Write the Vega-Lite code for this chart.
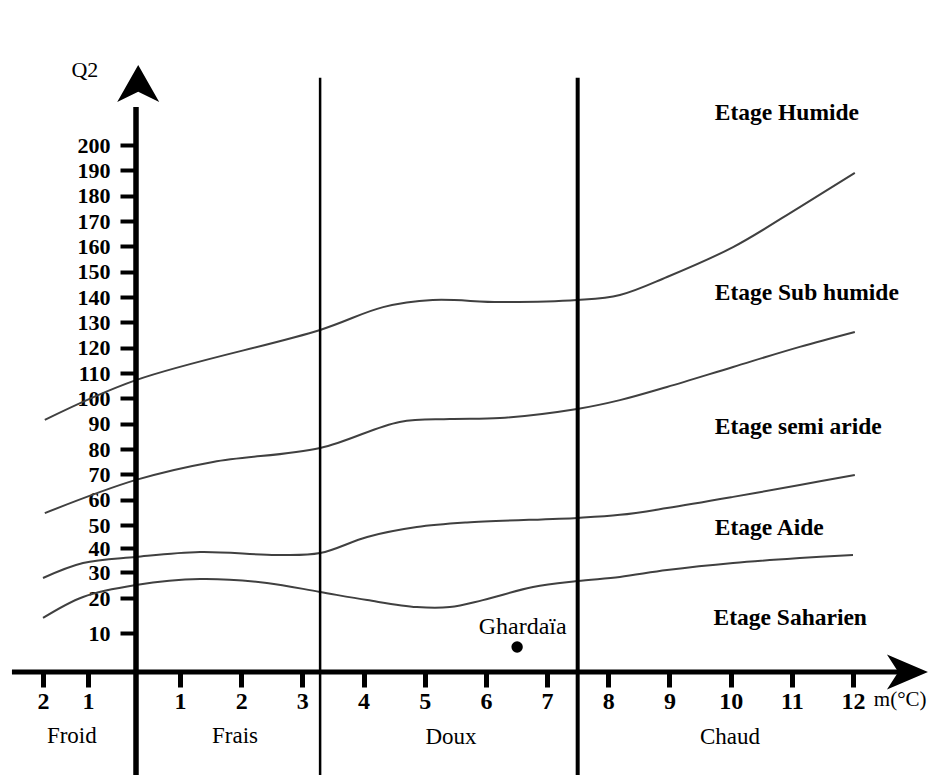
{
  "$schema": "https://vega.github.io/schema/vega-lite/v6.json",
  "width": 936,
  "height": 779,
  "padding": 0,
  "autosize": "none",
  "background": "white",
  "config": {"view": {"stroke": null}, "font": "Liberation Serif"},
  "datasets": {
    "curves": [
      {"curve": "Humide/Sub humide", "m": -1.96, "q": 91.5},
      {"curve": "Humide/Sub humide", "m": 0, "q": 107.2},
      {"curve": "Humide/Sub humide", "m": 3.29, "q": 127},
      {"curve": "Humide/Sub humide", "m": 4.32, "q": 136},
      {"curve": "Humide/Sub humide", "m": 5.13, "q": 138.8},
      {"curve": "Humide/Sub humide", "m": 6.23, "q": 138},
      {"curve": "Humide/Sub humide", "m": 7.49, "q": 138.8},
      {"curve": "Humide/Sub humide", "m": 8.19, "q": 140.8},
      {"curve": "Humide/Sub humide", "m": 8.96, "q": 147.9},
      {"curve": "Humide/Sub humide", "m": 10.04, "q": 159.7},
      {"curve": "Humide/Sub humide", "m": 11.13, "q": 175.5},
      {"curve": "Humide/Sub humide", "m": 12.03, "q": 189},
      {"curve": "Sub humide/Semi aride", "m": -1.96, "q": 54.7},
      {"curve": "Sub humide/Semi aride", "m": 0, "q": 67.8},
      {"curve": "Sub humide/Semi aride", "m": 1.54, "q": 74.9},
      {"curve": "Sub humide/Semi aride", "m": 3.29, "q": 80.4},
      {"curve": "Sub humide/Semi aride", "m": 4.59, "q": 90.7},
      {"curve": "Sub humide/Semi aride", "m": 5.41, "q": 91.8},
      {"curve": "Sub humide/Semi aride", "m": 6.23, "q": 92.2},
      {"curve": "Sub humide/Semi aride", "m": 7.49, "q": 95.8},
      {"curve": "Sub humide/Semi aride", "m": 8.19, "q": 99.3},
      {"curve": "Sub humide/Semi aride", "m": 8.96, "q": 104.5},
      {"curve": "Sub humide/Semi aride", "m": 10.04, "q": 112.4},
      {"curve": "Sub humide/Semi aride", "m": 11.13, "q": 120.3},
      {"curve": "Sub humide/Semi aride", "m": 12.03, "q": 126.2},
      {"curve": "Semi aride/Aride", "m": -2, "q": 27.7},
      {"curve": "Semi aride/Aride", "m": -1.11, "q": 33.75},
      {"curve": "Semi aride/Aride", "m": 0, "q": 36.25},
      {"curve": "Semi aride/Aride", "m": 1.33, "q": 38.3},
      {"curve": "Semi aride/Aride", "m": 2.58, "q": 37.1},
      {"curve": "Semi aride/Aride", "m": 3.29, "q": 37.9},
      {"curve": "Semi aride/Aride", "m": 4.06, "q": 44.8},
      {"curve": "Semi aride/Aride", "m": 4.87, "q": 49.1},
      {"curve": "Semi aride/Aride", "m": 5.69, "q": 51},
      {"curve": "Semi aride/Aride", "m": 7.5, "q": 52.8},
      {"curve": "Semi aride/Aride", "m": 8.19, "q": 54},
      {"curve": "Semi aride/Aride", "m": 8.96, "q": 56.7},
      {"curve": "Semi aride/Aride", "m": 10.04, "q": 61.1},
      {"curve": "Semi aride/Aride", "m": 11.13, "q": 65.8},
      {"curve": "Semi aride/Aride", "m": 12.03, "q": 69.7},
      {"curve": "Aride/Saharien", "m": -2, "q": 14.3},
      {"curve": "Aride/Saharien", "m": -1.11, "q": 20.4},
      {"curve": "Aride/Saharien", "m": 0, "q": 25},
      {"curve": "Aride/Saharien", "m": 1.33, "q": 27.3},
      {"curve": "Aride/Saharien", "m": 2.42, "q": 25.8},
      {"curve": "Aride/Saharien", "m": 3.29, "q": 22.3},
      {"curve": "Aride/Saharien", "m": 4.06, "q": 19.4},
      {"curve": "Aride/Saharien", "m": 4.87, "q": 17.4},
      {"curve": "Aride/Saharien", "m": 5.41, "q": 17.4},
      {"curve": "Aride/Saharien", "m": 5.95, "q": 19.4},
      {"curve": "Aride/Saharien", "m": 6.77, "q": 24.2},
      {"curve": "Aride/Saharien", "m": 7.49, "q": 26.5},
      {"curve": "Aride/Saharien", "m": 8.19, "q": 28.1},
      {"curve": "Aride/Saharien", "m": 8.96, "q": 30.8},
      {"curve": "Aride/Saharien", "m": 10.04, "q": 33.75},
      {"curve": "Aride/Saharien", "m": 11.13, "q": 35.8},
      {"curve": "Aride/Saharien", "m": 12, "q": 37.1}
    ],
    "separators": [
      {"line": "Frais|Doux", "m": 3.29, "q": 226.5, "q2": -26.4},
      {"line": "Doux|Chaud", "m": 7.5, "q": 226.5, "q2": -26.4}
    ],
    "yaxisline": [{"m": 0, "q": 215, "q2": -26.4}],
    "xaxisline": [{"m": -2.69, "m2": 12.9, "q": 0}],
    "yarrow": [{"m": 0.05, "q": 223.3}],
    "xarrow": [{"m": 12.89, "q": 0}],
    "etages": [
      {"label": "Etage Humide", "m": 9.74, "q": 212.6},
      {"label": "Etage Sub humide", "m": 9.74, "q": 141.6},
      {"label": "Etage semi aride", "m": 9.74, "q": 88.7},
      {"label": "Etage Aide", "m": 9.74, "q": 48.7},
      {"label": "Etage Saharien", "m": 9.72, "q": 14.3}
    ],
    "zones": [
      {"label": "Froid", "m": -1.36, "q": -16.4},
      {"label": "Frais", "m": 1.9, "q": -16.4},
      {"label": "Doux", "m": 5.43, "q": -16.6},
      {"label": "Chaud", "m": 9.99, "q": -16.6}
    ],
    "station": [{"label": "Ghardaïa", "m": 6.51, "q": 6.4, "lm": 6.6, "lq": 11.7}],
    "ytitle": [{"label": "Q2", "m": -1.07, "q": 229.6}],
    "xtitle": [{"label": "m(°C)", "m": 12.34, "q": -7.2}]
  },
  "encoding": {
    "x": {
      "field": "m",
      "type": "quantitative",
      "scale": {"domain": [-2, -1, 0, 1, 12], "range": [43, 88, 136, 180, 853], "nice": false, "zero": false},
      "axis": {
        "orient": "bottom",
        "offset": -107,
        "values": [-2, -1, 1, 2, 3, 4, 5, 6, 7, 8, 9, 10, 11, 12],
        "labelExpr": "'' + abs(datum.value)",
        "domain": false,
        "grid": false,
        "tickSize": 15,
        "tickWidth": 5,
        "tickColor": "black",
        "labelFont": "Liberation Serif",
        "labelFontWeight": "bold",
        "labelFontSize": 24,
        "labelColor": "black",
        "labelPadding": 2,
        "labelFlush": false,
        "labelOverlap": false,
        "title": null
      }
    },
    "y": {
      "field": "q",
      "type": "quantitative",
      "scale": {"domain": [0, 10, 20, 30, 40, 50, 200], "range": [672, 633, 598, 572, 548, 525, 145], "nice": false, "zero": false},
      "axis": {
        "orient": "left",
        "offset": -136,
        "values": [10, 20, 30, 40, 50, 60, 70, 80, 90, 100, 110, 120, 130, 140, 150, 160, 170, 180, 190, 200],
        "domain": false,
        "grid": false,
        "tickSize": 16,
        "tickWidth": 4,
        "tickColor": "black",
        "labelFont": "Liberation Serif",
        "labelFontWeight": "bold",
        "labelFontSize": 22,
        "labelColor": "black",
        "labelPadding": 10,
        "labelFlush": false,
        "labelOverlap": false,
        "title": null
      }
    }
  },
  "layer": [
    {
      "data": {"name": "curves"},
      "mark": {"type": "line", "interpolate": "catmull-rom", "color": "#404040", "strokeWidth": 2},
      "encoding": {"detail": {"field": "curve", "type": "nominal"}}
    },
    {
      "data": {"name": "separators"},
      "transform": [{"filter": "datum.line === 'Frais|Doux'"}],
      "mark": {"type": "rule", "color": "black", "strokeWidth": 2.5},
      "encoding": {"y2": {"field": "q2"}}
    },
    {
      "data": {"name": "separators"},
      "transform": [{"filter": "datum.line === 'Doux|Chaud'"}],
      "mark": {"type": "rule", "color": "black", "strokeWidth": 4},
      "encoding": {"y2": {"field": "q2"}}
    },
    {
      "data": {"name": "yaxisline"},
      "mark": {"type": "rule", "color": "black", "strokeWidth": 5.5},
      "encoding": {"y2": {"field": "q2"}}
    },
    {
      "data": {"name": "xaxisline"},
      "mark": {"type": "rule", "color": "black", "strokeWidth": 5},
      "encoding": {"x2": {"field": "m2"}}
    },
    {
      "data": {"name": "yarrow"},
      "mark": {"type": "point", "shape": "M0,-1 L1,0.76 L0,0.28 L-1,0.76 Z", "size": 1764, "filled": true, "color": "black", "opacity": 1},
      "encoding": {}
    },
    {
      "data": {"name": "xarrow"},
      "mark": {"type": "point", "shape": "M1,0 L-1,-0.85 L-0.45,0 L-1,0.85 Z", "size": 1681, "filled": true, "color": "black", "opacity": 1},
      "encoding": {}
    },
    {
      "data": {"name": "etages"},
      "mark": {"type": "text", "align": "left", "baseline": "middle", "font": "Liberation Serif", "fontWeight": "bold", "fontSize": 23.5, "color": "black"},
      "encoding": {"text": {"field": "label"}}
    },
    {
      "data": {"name": "zones"},
      "mark": {"type": "text", "align": "center", "baseline": "middle", "font": "Liberation Serif", "fontSize": 23, "color": "black"},
      "encoding": {"text": {"field": "label"}}
    },
    {
      "data": {"name": "station"},
      "mark": {"type": "circle", "size": 130, "color": "black", "opacity": 1},
      "encoding": {}
    },
    {
      "data": {"name": "station"},
      "mark": {"type": "text", "align": "center", "baseline": "middle", "font": "Liberation Serif", "fontSize": 24, "color": "black"},
      "encoding": {"x": {"field": "lm", "type": "quantitative"}, "y": {"field": "lq", "type": "quantitative"}, "text": {"field": "label"}}
    },
    {
      "data": {"name": "ytitle"},
      "mark": {"type": "text", "align": "center", "baseline": "middle", "font": "Liberation Serif", "fontSize": 22, "color": "black"},
      "encoding": {"text": {"field": "label"}}
    },
    {
      "data": {"name": "xtitle"},
      "mark": {"type": "text", "align": "left", "baseline": "middle", "font": "Liberation Serif", "fontSize": 21, "color": "black"},
      "encoding": {"text": {"field": "label"}}
    }
  ]
}
